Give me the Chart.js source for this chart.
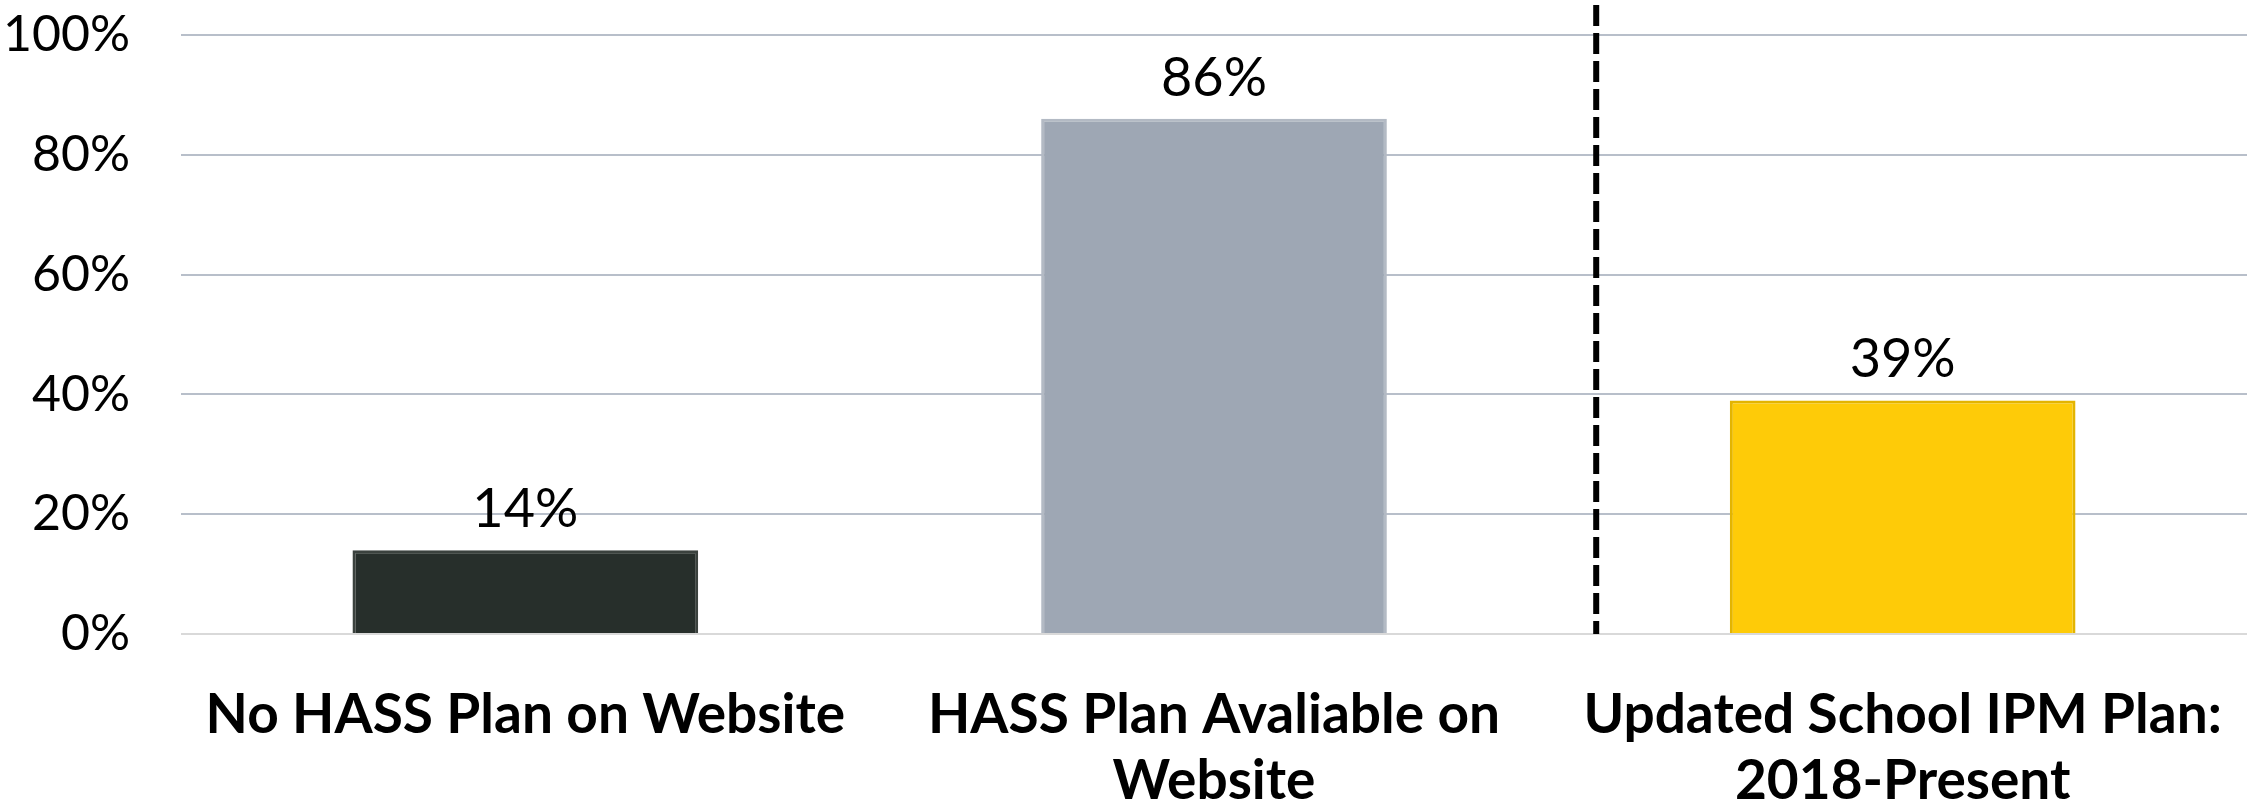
<!DOCTYPE html>
<html>
<head>
<meta charset="utf-8">
<script src="https://cdn.jsdelivr.net/npm/chart.js@4.4.1/dist/chart.umd.min.js"></script>
<style>
  html, body { margin: 0; padding: 0; background: #ffffff; }
  #wrap { width: 2257px; height: 809px; }
</style>
</head>
<body>
<div id="wrap"><canvas id="planChart"></canvas></div>
<script>
// chart data
const categories = [
  "No HASS Plan on Website",
  ["HASS Plan Avaliable on", "Website"],
  ["Updated School IPM Plan:", "2018-Present"],
];
const percentValues = [14, 86, 39];
const yTicks = [0, 20, 40, 60, 80, 100];
const barColors = ["#272f2b", "#9ea7b4", "#fecb08"];
const barEdges = ["#3b423e", "#b3bac4", "#e3b400"];
// divider sits a bit right of the gap between bar 2 and bar 3 (category units)
const dividerAt = 1.555;

// draws "14%" etc above each bar
const valueLabels = {
  id: "valueLabels",
  afterDatasetsDraw(chart) {
    const ctx = chart.ctx;
    const meta = chart.getDatasetMeta(0);
    ctx.save();
    ctx.font = "54px Lato";
    ctx.fillStyle = "#000000";
    ctx.textAlign = "center";
    ctx.textBaseline = "alphabetic";
    meta.data.forEach((bar, i) => {
      ctx.fillText(percentValues[i] + "%", bar.x, bar.y - 23);
    });
    ctx.restore();
  },
};

// vertical dashed separator
const dividerLine = {
  id: "dividerLine",
  afterDatasetsDraw(chart) {
    const ctx = chart.ctx;
    const x = chart.scales.x.getPixelForValue(dividerAt);
    ctx.save();
    ctx.strokeStyle = "#000000";
    ctx.lineWidth = 6;
    ctx.setLineDash([21, 7]);
    ctx.beginPath();
    ctx.moveTo(x, 5);
    ctx.lineTo(x, chart.chartArea.bottom);
    ctx.stroke();
    ctx.restore();
  },
};

document.addEventListener("DOMContentLoaded", function () {
  const ctx = document.getElementById("planChart").getContext("2d");
  new Chart(ctx, {
    type: "bar",
    data: {
      labels: categories,
      datasets: [
        {
          data: percentValues,
          backgroundColor: barColors,
          borderColor: barEdges,
          borderWidth: 3,
          barPercentage: 0.502,
          categoryPercentage: 1,
        },
      ],
    },
    options: {
      responsive: true,
      maintainAspectRatio: false,
      animation: false,
      layout: { padding: { top: 35, right: 10, left: 0, bottom: 0 } },
      plugins: {
        legend: { display: false },
        tooltip: { enabled: false },
      },
      scales: {
        x: {
          // invisible tick marks give the gap below the plot
          grid: {
            display: true,
            drawOnChartArea: false,
            drawTicks: true,
            tickLength: 48,
            tickColor: "rgba(0,0,0,0)",
          },
          border: { display: false },
          ticks: {
            color: "#000000",
            font: { family: "Lato", size: 55, weight: "bold", lineHeight: 1.2 },
            padding: 0,
            maxRotation: 0,
            autoSkip: false,
          },
          afterFit(scale) {
            scale.height = 175;
          },
        },
        y: {
          min: 0,
          max: 100,
          afterBuildTicks(scale) {
            scale.ticks = yTicks.map((v) => ({ value: v }));
          },
          grid: {
            drawTicks: true,
            tickLength: 51,
            tickColor: "rgba(0,0,0,0)",
            lineWidth: 2,
            color: (c) => (c.tick && c.tick.value === 0 ? "#d9d9d9" : "#b8bfca"),
          },
          border: { display: false },
          ticks: {
            color: "#000000",
            font: { family: "Lato", size: 50 },
            padding: 0,
            callback: (v) => v + "%",
          },
          afterFit(scale) {
            scale.width = 181;
          },
        },
      },
    },
    plugins: [valueLabels, dividerLine],
  });
});
</script>
</body>
</html>
